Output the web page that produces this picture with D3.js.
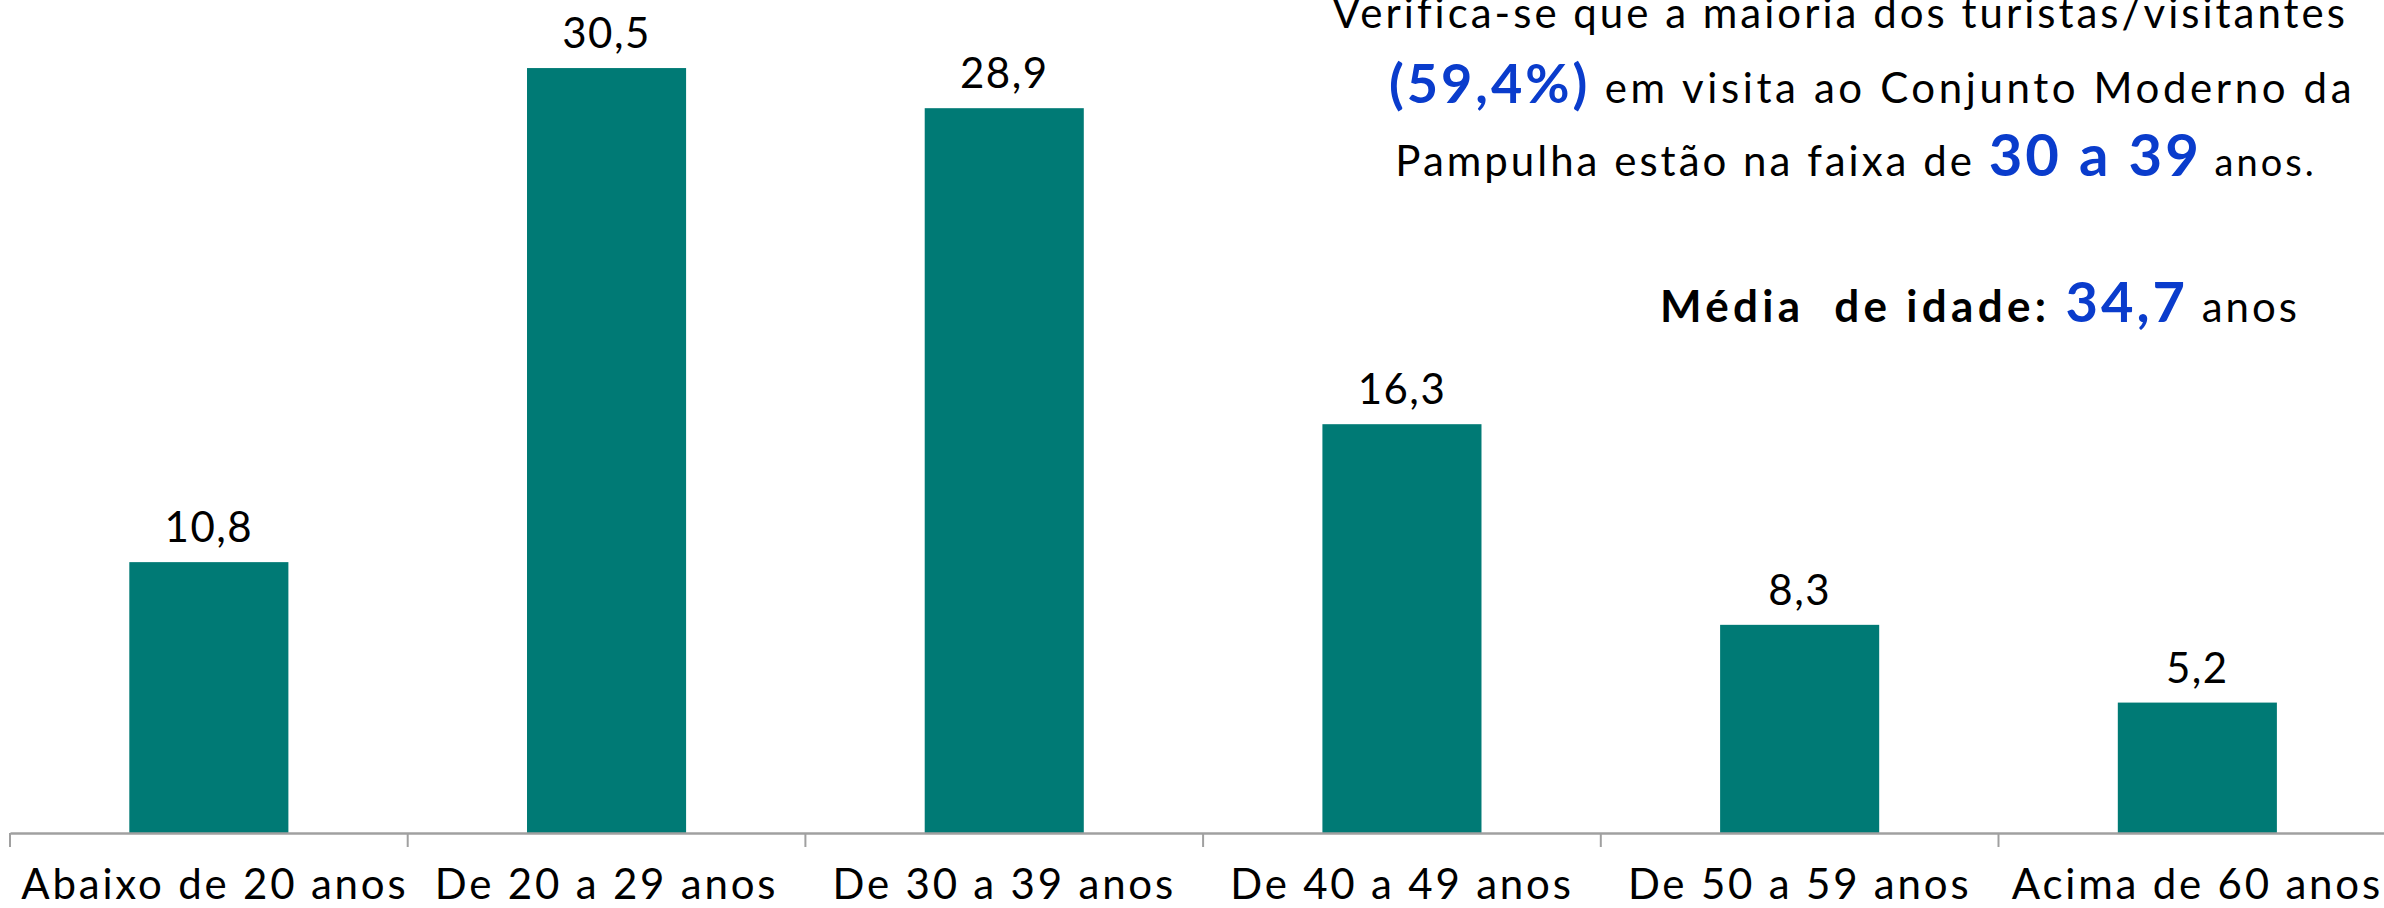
<!DOCTYPE html>
<html>
<head>
<meta charset="utf-8">
<script src="https://cdn.jsdelivr.net/npm/d3@7"></script>
<style>
  html, body { margin: 0; padding: 0; background: #fff; }
  svg { display: block; font-family: Lato, "Open Sans", sans-serif; }
</style>
</head>
<body>
<svg id="chart" width="2384" height="908"></svg>
<script>
const categories = ["Abaixo de 20 anos", "De 20 a 29 anos", "De 30 a 39 anos",
                    "De 40 a 49 anos", "De 50 a 59 anos", "Acima de 60 anos"];
const percentages = [10.8, 30.5, 28.9, 16.3, 8.3, 5.2];

// annotation lines, each a list of [text, kind]
const noteLines = [
    [["Verifica-se que a maioria dos turistas/visitantes", "normal"]],
    [["(59,4%)", "blue"], [" em visita ao Conjunto Moderno da", "normal2"]],
    [["Pampulha estão na faixa de ", "normal"], ["30 a 39", "blueBig"], [" anos.", "small"]]
];
const meanLine = [["Média  de idade: ", "bold"], ["34,7", "blueMid"], [" anos", "normal"]];

const width = 2384, height = 908;
const baseline = 833;
const svg = d3.select('#chart');

const x = d3.scaleBand()
    .domain(categories)
    .range([10, 10 + 6 * 397.7])
    .paddingInner(0.6)
    .paddingOuter(0.3);

const y = d3.scaleLinear()
    .domain([0, 35])
    .range([baseline, baseline - 35 * 25.08]);

// bars
svg.append('g')
    .selectAll('rect')
    .data(percentages)
    .join('rect')
    .attr('x', (d, i) => x(categories[i]))
    .attr('y', d => y(d))
    .attr('width', x.bandwidth())
    .attr('height', d => baseline - y(d))
    .attr('fill', '#007a75');

// value labels
svg.append('g')
    .selectAll('text')
    .data(percentages)
    .join('text')
    .attr('x', (d, i) => x(categories[i]) + x.bandwidth() / 2)
    .attr('y', d => y(d) - 20)
    .attr('text-anchor', 'middle')
    .attr('font-size', 42)
    .attr('letter-spacing', 1.5)
    .attr('fill', '#000')
    .text(d => d3.format('.1f')(d).replace('.', ','));

// x axis
const axis = svg.append('g')
    .attr('transform', `translate(0, ${baseline})`)
    .call(d3.axisBottom(x).tickSize(0).tickSizeOuter(0));

axis.select('.domain').attr('stroke', '#a0a0a0').attr('stroke-width', 2.5);
axis.selectAll('.tick text')
    .attr('y', 66)
    .attr('dy', 0)
    .attr('font-size', 42)
    .attr('letter-spacing', 2.8)
    .attr('font-family', 'Lato, "Open Sans", sans-serif')
    .attr('fill', '#000');
axis.selectAll('.tick').filter((d, i) => i === 0)
    .select('text').attr('x', 6);

// boundary ticks
const offset = (x.step() - x.bandwidth()) / 2;
axis.selectAll('.bound')
    .data(categories)
    .join('line')
    .attr('class', 'bound')
    .attr('x1', d => x(d) - offset)
    .attr('x2', d => x(d) - offset)
    .attr('y1', 0)
    .attr('y2', 14)
    .attr('stroke', '#a0a0a0')
    .attr('stroke-width', 2);

// annotation
const styles = {
    normal:  { size: 42, weight: 400, fill: '#000', ls: 3 },
    normal2: { size: 42, weight: 400, fill: '#000', ls: 3.6 },
    small:   { size: 38, weight: 400, fill: '#000', ls: 3 },
    bold:    { size: 44, weight: 700, fill: '#000', ls: 4.3 },
    blue:    { size: 54, weight: 700, fill: '#0a3ccc', ls: 3 },
    blueBig: { size: 58, weight: 700, fill: '#0a3ccc', ls: 3 },
    blueMid: { size: 56, weight: 700, fill: '#0a3ccc', ls: 3 }
};

function writeLine(parts, cx, by) {
    const t = svg.append('text')
        .attr('x', cx)
        .attr('y', by)
        .attr('text-anchor', 'middle')
        .style('white-space', 'pre');
    parts.forEach(([s, k]) => {
        t.append('tspan')
            .attr('font-size', styles[k].size)
            .attr('font-weight', styles[k].weight)
            .attr('letter-spacing', styles[k].ls)
            .attr('fill', styles[k].fill)
            .text(s);
    });
}

const lineCenters = [1840, 1872, 1856];
const lineBases = [28, 103, 176];
noteLines.forEach((l, i) => writeLine(l, lineCenters[i], lineBases[i]));
writeLine(meanLine, 1980, 322);
</script>
</body>
</html>
